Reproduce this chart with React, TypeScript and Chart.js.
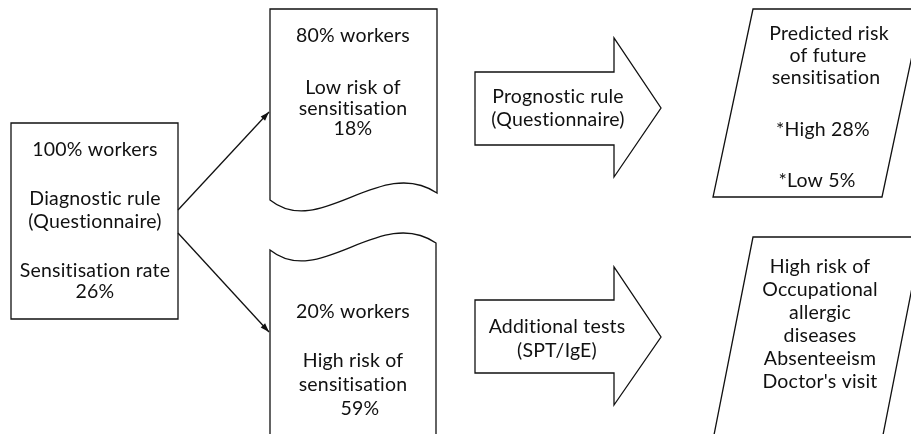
import React, { useEffect, useRef } from "react";
import { Chart, registerables } from "chart.js";

Chart.register(...registerables);

// ---- Text content of the flowchart nodes ----
const startLabels = ["100% workers", "", "Diagnostic rule", "(Questionnaire)", "", "Sensitisation rate", "26%"];
const lowRiskLabels = ["80% workers", "", "Low risk of", "sensitisation", "18%"];
const highRiskLabels = ["20% workers", "", "High risk of", "sensitisation", "59%"];
const prognosticLabels = ["Prognostic rule", "(Questionnaire)"];
const additionalLabels = ["Additional tests", "(SPT/IgE)"];
const predictedLabels = ["Predicted risk", "of future", "sensitisation", "", "*High 28%", "", "*Low 5%"];
const outcomeLabels = ["High risk of", "Occupational", "allergic", "diseases", "Absenteeism", "Doctor's visit"];

const FONT = "19.5px Lato, 'Open Sans', sans-serif";

export default function App() {
  const ref = useRef<HTMLCanvasElement | null>(null);

  useEffect(() => {
    document.body.style.margin = "0";
    const canvas = ref.current;
    if (!canvas) return;

    const diagramPlugin = {
      id: "diagram",
      afterDraw(chart: any) {
        const ctx = chart.ctx as CanvasRenderingContext2D;
        const xs = chart.scales.x;
        const ys = chart.scales.y;
        const X = (v: number) => xs.getPixelForValue(v);
        const Y = (v: number) => ys.getPixelForValue(v);

        ctx.save();
        ctx.strokeStyle = "#111";
        ctx.fillStyle = "#111";
        ctx.lineWidth = 1.3;
        ctx.lineJoin = "miter";

        const setFont = () => {
          ctx.font = FONT;
          ctx.textAlign = "center";
          ctx.textBaseline = "middle";
          (ctx as any).letterSpacing = "0.2px";
        };

        const poly = (pts: number[][]) => {
          ctx.beginPath();
          pts.forEach((p, i) => (i === 0 ? ctx.moveTo(X(p[0]), Y(p[1])) : ctx.lineTo(X(p[0]), Y(p[1]))));
          ctx.closePath();
          ctx.stroke();
        };

        const text = (lines: string[], cx: number | number[], y0: number, step: number, offsets?: number[]) => {
          setFont();
          lines.forEach((l, i) => {
            const y = offsets ? offsets[i] : y0 + i * step;
            const x = Array.isArray(cx) ? cx[i] : cx;
            if (l) ctx.fillText(l, X(x), Y(y));
          });
        };

        const arrowLine = (x1: number, y1: number, x2: number, y2: number) => {
          ctx.beginPath();
          ctx.moveTo(X(x1), Y(y1));
          ctx.lineTo(X(x2), Y(y2));
          ctx.stroke();
          const a = Math.atan2(Y(y2) - Y(y1), X(x2) - X(x1));
          const L = 9, W = 3;
          ctx.beginPath();
          ctx.moveTo(X(x2), Y(y2));
          ctx.lineTo(X(x2) - L * Math.cos(a) + W * Math.sin(a), Y(y2) - L * Math.sin(a) - W * Math.cos(a));
          ctx.lineTo(X(x2) - L * Math.cos(a) - W * Math.sin(a), Y(y2) - L * Math.sin(a) + W * Math.cos(a));
          ctx.closePath();
          ctx.fill();
        };

        // Start box
        poly([[11, 123], [178, 123], [178, 319], [11, 319]]);
        text(startLabels, 95, 0, 0, [150, 0, 199, 221.5, 0, 270.5, 292]);

        // Connectors
        arrowLine(178, 210, 269, 112);
        arrowLine(178, 233, 269, 332);

        // Low-risk document (wavy bottom)
        ctx.beginPath();
        ctx.moveTo(X(270), Y(200));
        ctx.lineTo(X(270), Y(9));
        ctx.lineTo(X(437), Y(9));
        ctx.lineTo(X(437), Y(193));
        ctx.bezierCurveTo(X(380), Y(155), X(320), Y(240), X(270), Y(200));
        ctx.closePath();
        ctx.stroke();
        text(lowRiskLabels, 353, 0, 0, [36, 0, 88, 108.5, 129]);

        // High-risk document (wavy top)
        ctx.beginPath();
        ctx.moveTo(X(270), Y(440));
        ctx.lineTo(X(270), Y(250));
        ctx.bezierCurveTo(X(320), Y(290), X(380), Y(205), X(436), Y(243));
        ctx.lineTo(X(436), Y(440));
        ctx.stroke();
        text(highRiskLabels, [353, 0, 353, 353, 360], 0, 0, [312, 0, 361, 385, 409]);

        // Block arrows
        poly([[475, 72], [614, 72], [614, 38], [661, 108], [614, 177], [614, 145], [475, 145]]);
        text(prognosticLabels, 558, 97, 23);
        poly([[475, 300], [614, 300], [614, 267], [661, 337], [614, 405], [614, 373], [475, 373]]);
        text(additionalLabels, 557, 327, 24);

        // Parallelograms
        poly([[753, 9], [922, 9], [882, 197], [713, 197]]);
        text(predictedLabels, [829, 828, 826, 0, 823, 0, 817], 0, 0, [34, 56, 78, 0, 130, 0, 181]);
        poly([[753, 237], [922, 237], [882, 440], [713, 440]]);
        text(outcomeLabels, 820, 267, 23);

        ctx.restore();
      },
    };

    const chart = new Chart(canvas, {
      type: "scatter",
      data: { datasets: [{ data: [] }] },
      options: {
        animation: false,
        responsive: false,
        layout: { padding: 0 },
        plugins: { legend: { display: false }, tooltip: { enabled: false } },
        scales: {
          x: { type: "linear", min: 0, max: 911, display: false },
          y: { type: "linear", min: 0, max: 434, reverse: true, display: false },
        },
      },
      plugins: [diagramPlugin],
    });
    return () => chart.destroy();
  }, []);

  return (
    <div style={{ width: 911, height: 434, background: "#fff" }}>
      <canvas ref={ref} width={911} height={434} />
    </div>
  );
}
